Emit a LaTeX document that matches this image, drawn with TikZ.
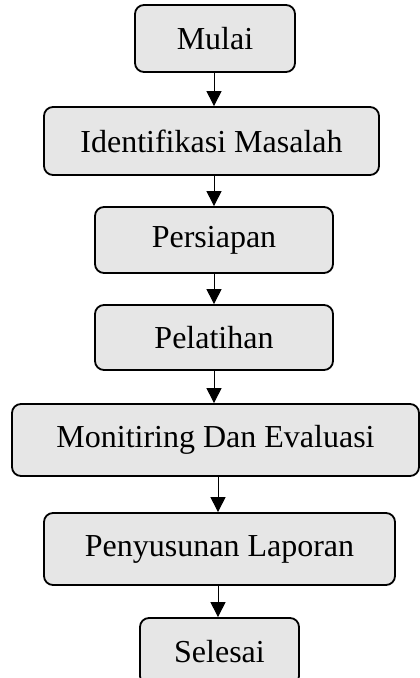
\documentclass[tikz,border=0pt]{standalone}
\usepackage{fontspec}
\setmainfont{Liberation Serif}
\usetikzlibrary{arrows.meta}
\begin{document}
\begin{tikzpicture}[x=1pt,y=-1pt,
  box/.style={draw=black,line width=1.8pt,rounded corners=9pt,fill=boxgray,
    inner sep=0pt,font=\fontsize{32}{37}\selectfont,anchor=center},
  arr/.style={draw=black,line width=1pt,-{Triangle[length=15pt,width=15pt]}}]
\definecolor{boxgray}{HTML}{E6E6E6}
\useasboundingbox (0,0) rectangle (420,678);
\clip (0,0) rectangle (420,678);
\node[box,minimum width=160pt,minimum height=67pt] (mulai) at (215,38.5) {Mulai};
\node[box,minimum width=335pt,minimum height=68pt] (ident) at (211.5,141) {Identifikasi Masalah};
\node[box,minimum width=238pt,minimum height=66pt] (persiapan) at (214,240) {Persiapan};
\node[box,minimum width=238pt,minimum height=65pt] (pelatihan) at (214,337.5) {Pelatihan};
\node[box,minimum width=407pt,minimum height=72pt] (monev) at (215.5,440) {Monitiring Dan Evaluasi};
\node[box,minimum width=351pt,minimum height=72pt] (lapor) at (219.5,549) {Penyusunan Laporan};
\node[box,minimum width=159pt,minimum height=67pt] (selesai) at (219.5,651.5) {Selesai};
\coordinate (xa) at (214,0);
\coordinate (xb) at (218,0);
\draw[arr] (mulai.south -| xa) -- (ident.north -| xa);
\draw[arr] (ident.south -| xa) -- (persiapan.north -| xa);
\draw[arr] (persiapan.south -| xa) -- (pelatihan.north -| xa);
\draw[arr] (pelatihan.south -| xa) -- (monev.north -| xa);
\draw[arr] (monev.south -| xb) -- (lapor.north -| xb);
\draw[arr] (lapor.south -| xb) -- (selesai.north -| xb);
\end{tikzpicture}
\end{document}
